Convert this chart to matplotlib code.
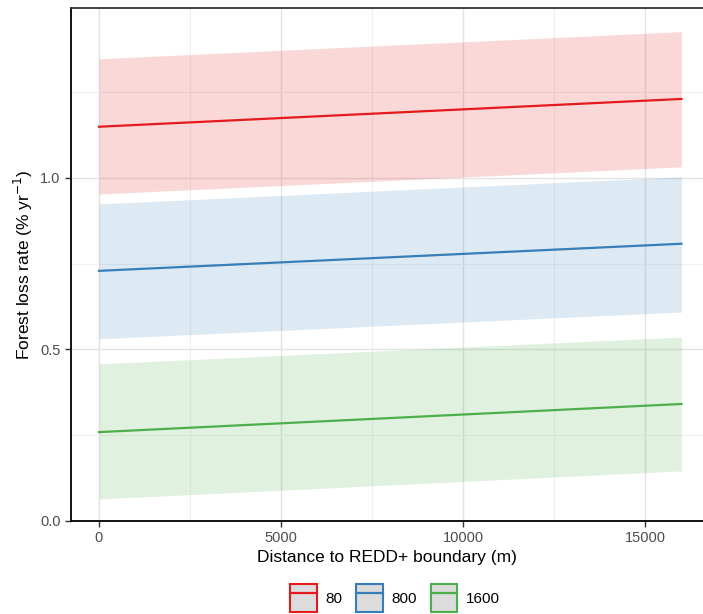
import matplotlib
matplotlib.use("Agg")
import matplotlib.pyplot as plt
from matplotlib.patches import Patch
from matplotlib.lines import Line2D
from matplotlib.legend_handler import HandlerTuple

plt.rcParams['font.family'] = ['Liberation Sans', 'DejaVu Sans']

# distance to boundary (m)
distance = [0, 16000]

groups = ["80", "800", "1600"]
colors = ["#E41A1C", "#377EB8", "#4DAF4A"]

# fitted rate and confidence band per group
fit = {
    "80":   [1.149, 1.230],
    "800":  [0.729, 0.808],
    "1600": [0.259, 0.341],
}
lower = {
    "80":   [0.953, 1.032],
    "800":  [0.531, 0.609],
    "1600": [0.064, 0.146],
}
upper = {
    "80":   [1.347, 1.426],
    "800":  [0.924, 1.003],
    "1600": [0.458, 0.536],
}

fig = plt.figure(figsize=(7.03, 6.14), dpi=100)
ax = fig.add_axes([0.101, 0.1515, 0.899, 0.836])

for g, c in zip(groups, colors):
    ax.fill_between(distance, lower[g], upper[g], color=c, alpha=0.17, linewidth=0)
    ax.plot(distance, fit[g], color=c, linewidth=1.6)

ax.set_xlim(-769, 16593)
ax.set_ylim(0, 1.496)
ax.set_xticks([0, 5000, 10000, 15000])
ax.set_xticks([2500, 7500, 12500], minor=True)
ax.set_yticks([0.0, 0.5, 1.0])
ax.set_yticklabels(["0.0", "0.5", "1.0"])
ax.set_yticks([0.25, 0.75, 1.25], minor=True)

ax.grid(which='major', color='#E3E3E3', linewidth=1.0)
ax.grid(which='minor', color='#F0F0F0', linewidth=0.8)
ax.set_axisbelow(True)
ax.tick_params(which='minor', length=0)
ax.tick_params(which='major', length=4, width=1, color='#333333',
               labelsize=10.5, labelcolor='#4D4D4D')

ax.spines['right'].set_visible(False)
for s in ['left', 'bottom', 'top']:
    ax.spines[s].set_linewidth(1.3)
    ax.spines[s].set_color('black')
ax.spines['top'].set_color('#333333')

ax.set_xlabel("Distance to REDD+ boundary (m)", fontsize=12.5, labelpad=3)
ax.set_ylabel(r"Forest loss rate (% yr$^{-1}$)", fontsize=12.5, labelpad=4)

handles = []
for c in colors:
    box = Patch(facecolor='#DCDCDC', edgecolor=c, linewidth=1.5)
    ln = Line2D([0], [0], color=c, linewidth=1.6)
    handles.append((box, ln))

fig.legend(handles, groups, loc='center', bbox_to_anchor=(0.562, 0.026),
           ncol=3, frameon=False, fontsize=11,
           handler_map={tuple: HandlerTuple(ndivide=1, pad=0)},
           handlelength=1.75, handleheight=2.4, columnspacing=0.9,
           handletextpad=0.55)

fig.savefig("out.png", dpi=100)
